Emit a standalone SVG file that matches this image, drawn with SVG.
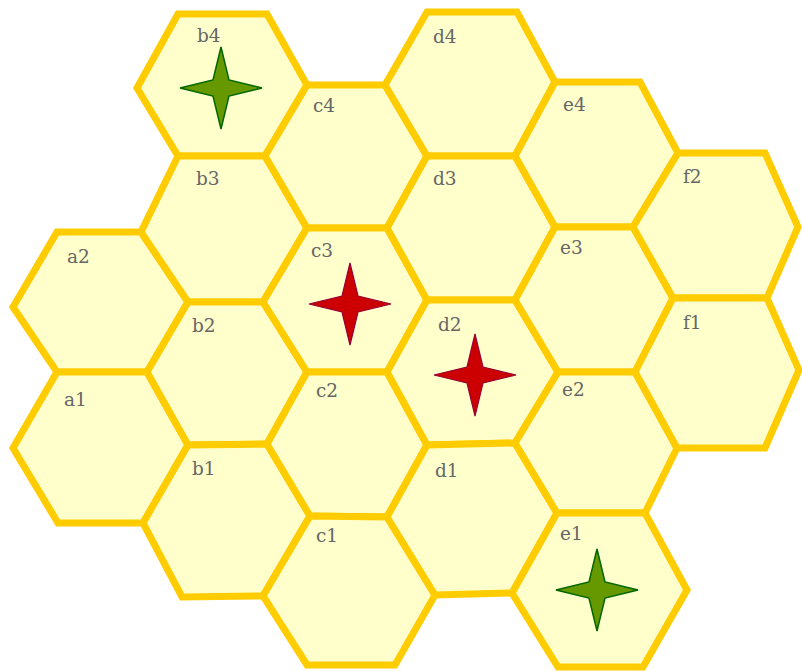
<svg xmlns="http://www.w3.org/2000/svg" width="802" height="671" viewBox="0 0 802 671">
<defs>
<style>
.hex{fill:#ffffcc;stroke:#ffcc00;stroke-width:7;stroke-linejoin:miter}
.lbl{font-family:"DejaVu Serif","Liberation Serif",serif;font-size:18.5px;fill:#666666}
.sg{fill:#669900;stroke:#006600;stroke-width:1.5}
.sr{fill:#cc0000;stroke:#990033;stroke-width:1.2}
</style>
<path id="star" d="M0,-41 L8,-8 L41,0 L8,8 L0,41 L-8,8 L-41,0 L-8,-8 Z"/>
</defs>
<rect width="802" height="671" fill="#ffffff"/>
<g id="hexes">
<g id="a2"><polygon class="hex" points="57,232 141,232 188,302 147,372 57,372 13,307"/><text class="lbl" x="67" y="263">a2</text></g>
<g id="a1"><polygon class="hex" points="57,372 147,372 188,445 143,523 58,523 13,448"/><text class="lbl" x="64" y="406">a1</text></g>
<g id="b4"><polygon class="hex" points="178,14 267,14 307,85 265,156 178,156 137,88"/><text class="lbl" x="197" y="42">b4</text></g>
<g id="b3"><polygon class="hex" points="178,156 265,156 307,228 263,302 188,302 141,232"/><text class="lbl" x="196" y="185">b3</text></g>
<g id="b2"><polygon class="hex" points="188,302 263,302 307,372 267,444 188,445 147,372"/><text class="lbl" x="192" y="332">b2</text></g>
<g id="b1"><polygon class="hex" points="188,445 267,444 310,516 263,596 182,597 143,523"/><text class="lbl" x="192" y="475">b1</text></g>
<g id="c4"><polygon class="hex" points="307,85 385,85 427,156 387,228 307,228 265,156"/><text class="lbl" x="313" y="112">c4</text></g>
<g id="c3"><polygon class="hex" points="307,228 387,228 427,300 387,372 307,372 263,302"/><text class="lbl" x="311" y="257">c3</text></g>
<g id="c2"><polygon class="hex" points="307,372 387,372 427,445 387,517 310,516 267,444"/><text class="lbl" x="316" y="397">c2</text></g>
<g id="c1"><polygon class="hex" points="310,516 387,517 435,595 395,665 307,665 263,596"/><text class="lbl" x="316" y="542">c1</text></g>
<g id="d4"><polygon class="hex" points="427,12 517,12 555,82 515,156 427,156 385,85"/><text class="lbl" x="433" y="43">d4</text></g>
<g id="d3"><polygon class="hex" points="427,156 515,156 555,227 515,300 427,300 387,228"/><text class="lbl" x="433" y="185">d3</text></g>
<g id="d2"><polygon class="hex" points="427,300 515,300 558,372 515,443 427,445 387,372"/><text class="lbl" x="438" y="331">d2</text></g>
<g id="d1"><polygon class="hex" points="427,445 515,443 557,513 512,593 435,595 387,517"/><text class="lbl" x="435" y="477">d1</text></g>
<g id="e4"><polygon class="hex" points="555,82 640,82 678,153 633,227 555,227 515,156"/><text class="lbl" x="563" y="111">e4</text></g>
<g id="e3"><polygon class="hex" points="555,227 633,227 673,298 635,372 558,372 515,300"/><text class="lbl" x="560" y="254">e3</text></g>
<g id="e2"><polygon class="hex" points="558,372 635,372 677,448 645,513 557,513 515,443"/><text class="lbl" x="562" y="396">e2</text></g>
<g id="e1"><polygon class="hex" points="557,513 645,513 687,590 643,667 558,667 512,593"/><text class="lbl" x="560" y="540">e1</text></g>
<g id="f2"><polygon class="hex" points="678,153 765,153 798,227 767,298 673,298 633,227"/><text class="lbl" x="683" y="183">f2</text></g>
<g id="f1"><polygon class="hex" points="673,298 767,298 799,370 765,448 677,448 635,372"/><text class="lbl" x="683" y="329">f1</text></g>
</g>
<g id="markers">
<use href="#star" class="sg" transform="translate(221,88)"/>
<use href="#star" class="sg" transform="translate(597,590)"/>
<use href="#star" class="sr" transform="translate(350,304)"/>
<use href="#star" class="sr" transform="translate(475,375)"/>
</g>
</svg>
